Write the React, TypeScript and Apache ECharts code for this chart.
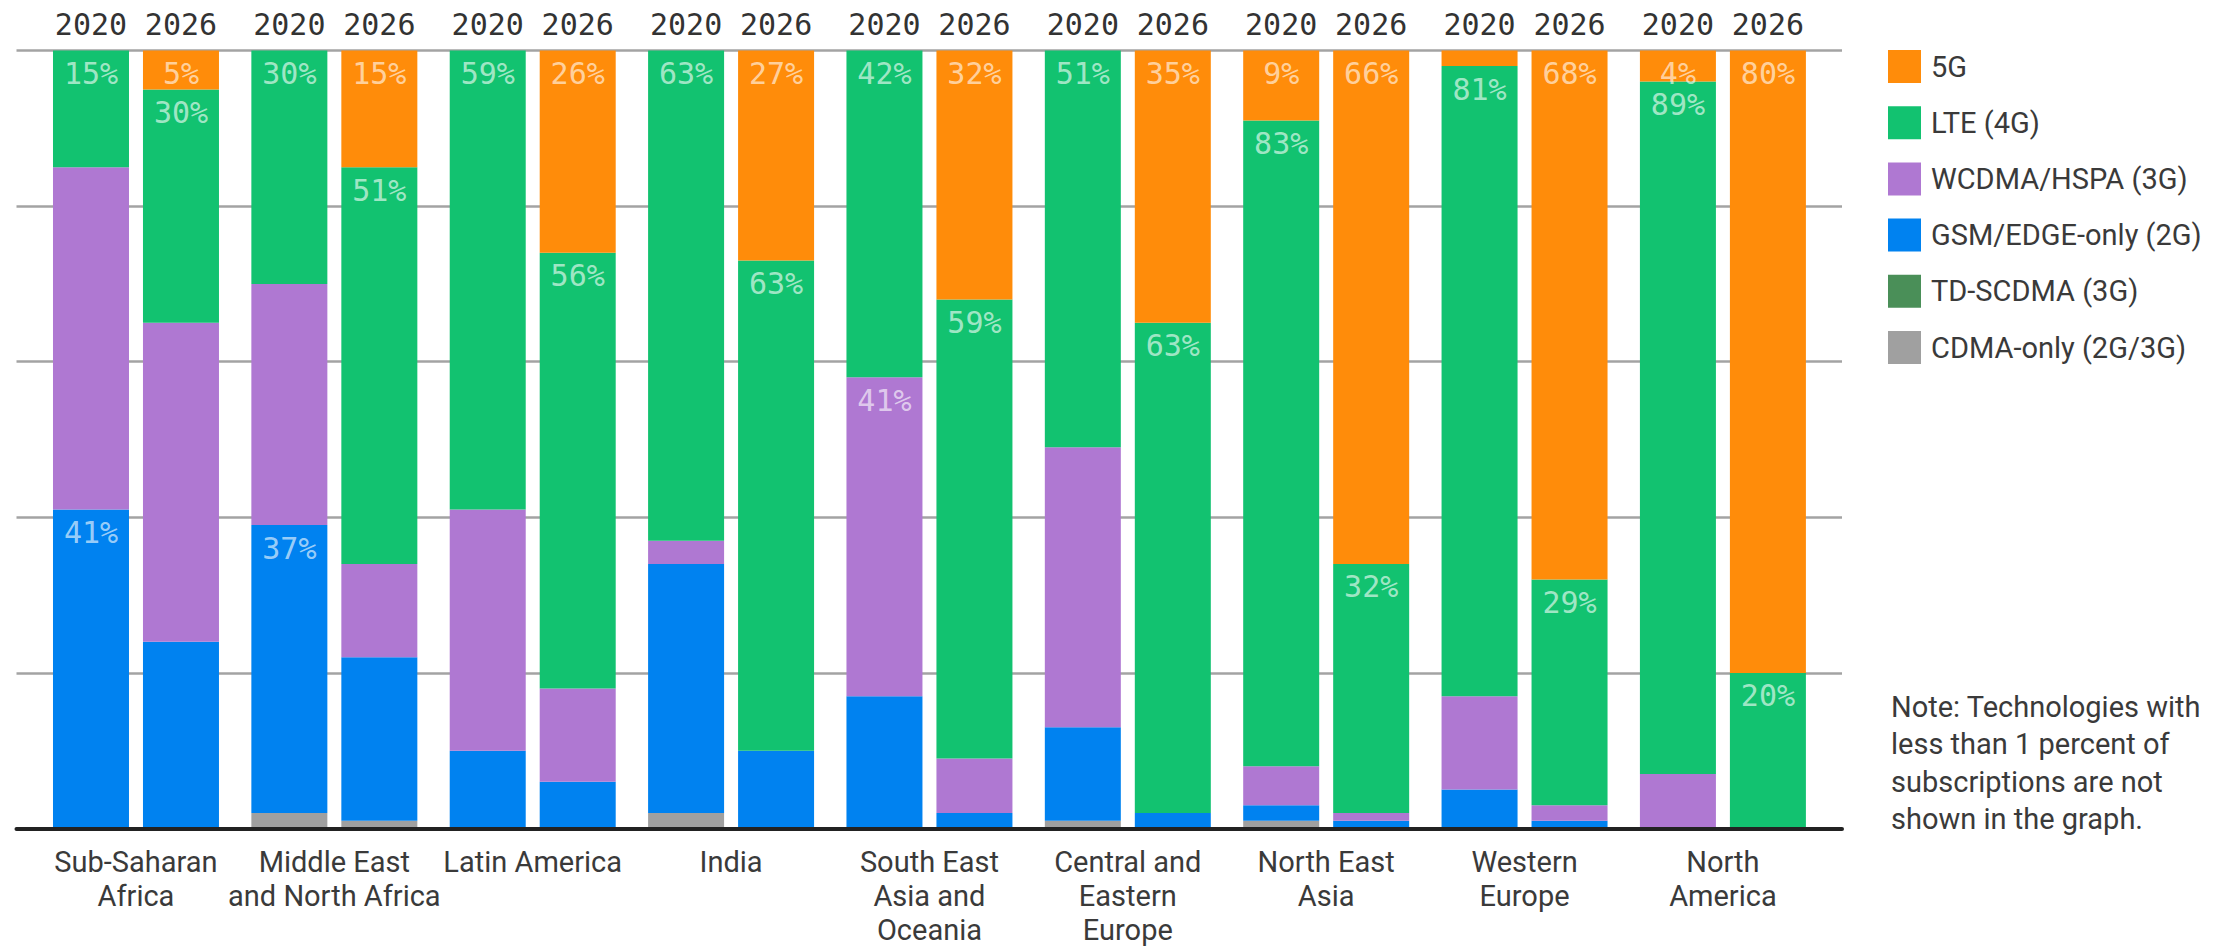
import React, { useEffect, useRef } from "react";
import * as echarts from "echarts";

const regions = [
  "Sub-Saharan\nAfrica",
  "Middle East\nand North Africa",
  "Latin America",
  "India",
  "South East\nAsia and\nOceania",
  "Central and\nEastern\nEurope",
  "North East\nAsia",
  "Western\nEurope",
  "North\nAmerica",
];
const years = ["2020", "2026"];
const techs = ["5G", "LTE (4G)", "WCDMA/HSPA (3G)", "GSM/EDGE-only (2G)", "TD-SCDMA (3G)", "CDMA-only (2G/3G)"];
const colors = ["#ff8c0a", "#12c270", "#af78d2", "#0082f0", "#4a8f58", "#a0a0a0"];

// 2020 shares (%)
const g5_2020 = [0, 0, 0, 0, 0, 0, 9, 2, 4];
const lte_2020 = [15, 30, 59, 63, 42, 51, 83, 81, 89];
const wcdma_2020 = [44, 31, 31, 3, 41, 36, 5, 12, 7];
const gsm_2020 = [41, 37, 10, 32, 17, 12, 2, 5, 0];
const td_2020 = [0, 0, 0, 0, 0, 0, 0, 0, 0];
const cdma_2020 = [0, 2, 0, 2, 0, 1, 1, 0, 0];

// 2026 shares (%)
const g5_2026 = [5, 15, 26, 27, 32, 35, 66, 68, 80];
const lte_2026 = [30, 51, 56, 63, 59, 63, 32, 29, 20];
const wcdma_2026 = [41, 12, 12, 0, 7, 0, 1, 2, 0];
const gsm_2026 = [24, 21, 6, 10, 2, 2, 1, 1, 0];
const td_2026 = [0, 0, 0, 0, 0, 0, 0, 0, 0];
const cdma_2026 = [0, 1, 0, 0, 0, 0, 0, 0, 0];

// which segments carry a percentage label
const show5G_2020 = [0, 0, 0, 0, 0, 0, 1, 0, 1];
const showLte_2020 = [1, 1, 1, 1, 1, 1, 1, 1, 1];
const showWcdma_2020 = [0, 0, 0, 0, 1, 0, 0, 0, 0];
const showGsm_2020 = [1, 1, 0, 0, 0, 0, 0, 0, 0];
const show5G_2026 = [1, 1, 1, 1, 1, 1, 1, 1, 1];
const showLte_2026 = [1, 1, 1, 1, 1, 1, 1, 1, 1];
const none = [0, 0, 0, 0, 0, 0, 0, 0, 0];

const noteText = "Note: Technologies with\nless than 1 percent of\nsubscriptions are not\nshown in the graph.";

const MONO = "'DejaVu Sans Mono', monospace";
const SANS = "Roboto, 'Noto Sans', sans-serif";

function makeSeries(name: string, color: string, values: number[], shows: number[], stack: string) {
  return {
    type: "bar",
    name,
    stack,
    xAxisIndex: 0,
    yAxisIndex: 0,
    barWidth: 76,
    barGap: "18.4%",
    itemStyle: { color },
    label: {
      show: false,
      position: "insideTop",
      distance: 8,
      formatter: (p: any) => p.value + "%",
      fontFamily: MONO,
      fontSize: 30,
      lineHeight: 30,
      color: "rgba(255,255,255,0.62)",
    },
    emphasis: { disabled: true },
    data: values.map((v, i) => ({ value: v, label: { show: !!shows[i] } })),
  };
}

export default function App() {
  const ref = useRef<HTMLDivElement>(null);

  useEffect(() => {
    document.body.style.margin = "0";
    if (!ref.current) return;
    const chart = echarts.init(ref.current, null, { renderer: "svg" });

    const sets2020 = [
      [cdma_2020, none],
      [td_2020, none],
      [gsm_2020, showGsm_2020],
      [wcdma_2020, showWcdma_2020],
      [lte_2020, showLte_2020],
      [g5_2020, show5G_2020],
    ];
    const sets2026 = [
      [cdma_2026, none],
      [td_2026, none],
      [gsm_2026, none],
      [wcdma_2026, none],
      [lte_2026, showLte_2026],
      [g5_2026, show5G_2026],
    ];
    // stack order bottom->top: CDMA, TD, GSM, WCDMA, LTE, 5G
    const order = [5, 4, 3, 2, 1, 0];
    const series: any[] = [];
    order.forEach((ti, k) => {
      series.push(makeSeries(techs[ti], colors[ti], sets2020[k][0], sets2020[k][1], "y2020"));
      series.push(makeSeries(techs[ti], colors[ti], sets2026[k][0], sets2026[k][1], "y2026"));
    });

    const option: any = {
      animation: false,
      backgroundColor: "#ffffff",
      grid: [
        { left: 36.8, top: 50.5, width: 1785.3, height: 778, containLabel: false, outerBoundsMode: "none" },
        { left: 16.5, top: 50.5, width: 1825.5, height: 778, containLabel: false, outerBoundsMode: "none" },
      ],
      xAxis: [
        {
          type: "category",
          gridIndex: 0,
          data: regions,
          position: "bottom",
          axisLine: { show: false },
          axisTick: { show: false },
          splitLine: { show: false },
          axisLabel: {
            interval: 0,
            margin: 16,
            fontFamily: SANS,
            fontSize: 29,
            lineHeight: 34,
            color: "#3a3a3a",
          },
        },
        {
          type: "category",
          gridIndex: 0,
          data: regions,
          position: "top",
          axisLine: { show: false },
          axisTick: { show: false },
          splitLine: { show: false },
          axisLabel: {
            interval: 0,
            margin: 11,
            formatter: () => `{a|${years[0]}}{g|}{b|${years[1]}}`,
            rich: {
              a: { width: 76, align: "center", fontFamily: MONO, fontSize: 30, lineHeight: 30, color: "#333" },
              g: { width: 14 },
              b: { width: 76, align: "center", fontFamily: MONO, fontSize: 30, lineHeight: 30, color: "#333" },
            },
          },
        },
        {
          type: "value",
          gridIndex: 1,
          min: 0,
          max: 1,
          z: 6,
          axisLine: { show: true, onZero: false, lineStyle: { color: "#222222", width: 4 } },
          axisTick: { show: false },
          axisLabel: { show: false },
          splitLine: { show: false },
        },
      ],
      yAxis: [
        {
          type: "value",
          gridIndex: 0,
          min: 0,
          max: 100,
          interval: 20,
          show: false,
        },
        {
          type: "value",
          gridIndex: 1,
          min: 0,
          max: 100,
          interval: 20,
          axisLine: { show: false },
          axisTick: { show: false },
          axisLabel: { show: false },
          splitLine: { show: true, lineStyle: { color: "#a3a3a3", width: 2.6 } },
        },
      ],
      legend: {
        orient: "vertical",
        left: 1888,
        top: 50,
        padding: 0,
        itemWidth: 33,
        itemHeight: 33,
        itemGap: 23.2,
        icon: "rect",
        selectedMode: false,
        data: techs,
        textStyle: { fontFamily: SANS, fontSize: 29, color: "#3a3a3a", padding: [0, 0, 0, 5] },
      },
      graphic: [
        {
          type: "text",
          left: 1891,
          top: 688,
          style: {
            text: noteText,
            fontFamily: SANS,
            fontSize: 29,
            lineHeight: 37.5,
            fill: "#3a3a3a",
          },
        },
      ],
      series,
    };

    chart.setOption(option);
    return () => chart.dispose();
  }, []);

  return <div ref={ref} style={{ width: "2237px", height: "947px" }} />;
}
